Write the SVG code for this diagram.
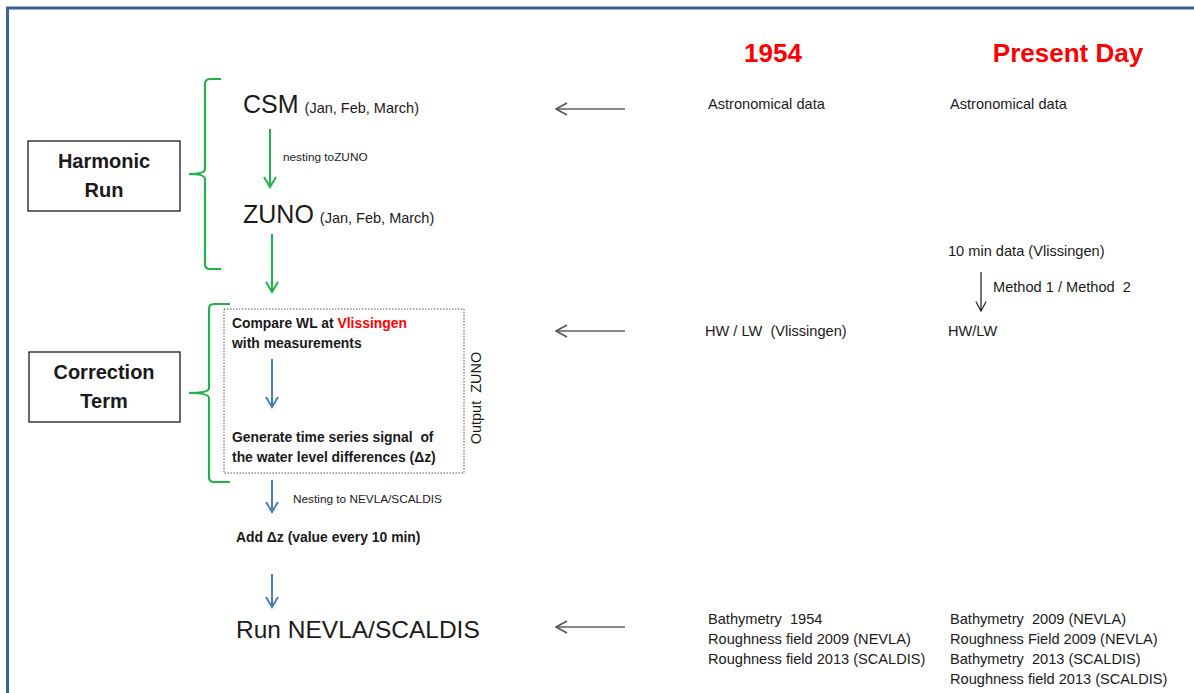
<svg xmlns="http://www.w3.org/2000/svg" width="1194" height="693" viewBox="0 0 1194 693">
<defs>
<style>
.t{font-family:"Liberation Sans",Arial,sans-serif;fill:#1a1a1a;white-space:pre}
.sm{font-size:14.6px}
.xs{font-size:11.8px}
.big{font-size:25px}
.b{font-weight:bold}
.bt{font-weight:bold;font-size:13.9px}
.red{fill:#ff0000}
.box{fill:#fff;stroke:#1a1a1a;stroke-width:1.3}
.brace{fill:none;stroke:#22b14c;stroke-width:2.2}
.g{stroke:#22b14c;stroke-width:2;fill:none}
.bl{stroke:#4a7ebb;stroke-width:2;fill:none}
.gr{stroke:#606060;stroke-width:1.5;fill:none}
.k{stroke:#1a1a1a;stroke-width:1.2;fill:none}
</style>
<marker id="mg" viewBox="0 0 14 14" refX="12" refY="7" markerWidth="14" markerHeight="14" markerUnits="userSpaceOnUse" orient="auto"><path d="M2,1 L12,7 L2,13" fill="none" stroke="#22b14c" stroke-width="2"/></marker>
<marker id="mb" viewBox="0 0 14 14" refX="12" refY="7" markerWidth="14" markerHeight="14" markerUnits="userSpaceOnUse" orient="auto"><path d="M2,1 L12,7 L2,13" fill="none" stroke="#4a7ebb" stroke-width="2"/></marker>
<marker id="mgr" viewBox="0 0 14 14" refX="12" refY="7" markerWidth="14" markerHeight="14" markerUnits="userSpaceOnUse" orient="auto"><path d="M1,1 L12,7 L1,13" fill="none" stroke="#505050" stroke-width="1.5"/></marker>
<marker id="mk" viewBox="0 0 14 14" refX="12" refY="7" markerWidth="12" markerHeight="12" markerUnits="userSpaceOnUse" orient="auto"><path d="M1,1 L12,7 L1,13" fill="none" stroke="#1a1a1a" stroke-width="1.3"/></marker>
</defs>
<rect width="1194" height="693" fill="#fff"/>
<!-- frame -->
<path d="M7.5,700 L7.5,8 L1200,8" fill="none" stroke="#3c6394" stroke-width="3"/>

<!-- headers -->
<g id="hdr1954"><text class="t b red" x="773" y="62" font-size="26" text-anchor="middle">1954</text></g>
<g id="hdrPresent"><text class="t b red" x="1068" y="62" font-size="26" text-anchor="middle">Present Day</text></g>

<!-- left boxes -->
<g id="harmonic">
<rect class="box" x="28" y="141" width="152" height="70"/>
<text class="t b" x="104" y="168" font-size="20" text-anchor="middle">Harmonic</text>
<text class="t b" x="104" y="197" font-size="20" text-anchor="middle">Run</text>
</g>
<g id="correction">
<rect class="box" x="29" y="352" width="151" height="70"/>
<text class="t b" x="104" y="379" font-size="20" text-anchor="middle">Correction</text>
<text class="t b" x="104" y="408" font-size="20" text-anchor="middle">Term</text>
</g>

<!-- braces -->
<g id="brace1"><path class="brace" d="M221,79 L210,79 Q205,79 205,84 L205,169 Q205,174 189,174 Q205,174 205,179 L205,264 Q205,269 210,269 L221,269"/></g>
<g id="brace2"><path class="brace" d="M230,304 L214,304 Q209,304 209,309 L209,388 Q209,393 189,393 Q209,393 209,398 L209,477 Q209,482 214,482 L230,482"/></g>

<!-- flow nodes -->
<g id="csm"><text class="t" x="243" y="113"><tspan class="big">CSM</tspan><tspan font-size="14.5" dx="6">(Jan, Feb, March)</tspan></text></g>
<g id="zuno"><text class="t" x="243" y="223"><tspan class="big">ZUNO</tspan><tspan font-size="14.5" dx="6">(Jan, Feb, March)</tspan></text></g>
<g id="outputzuno">
<rect x="224" y="309" width="240" height="164" fill="none" stroke="#555" stroke-width="1" stroke-dasharray="1.5,1.5"/>
<text class="t bt" x="232" y="328">Compare WL at <tspan class="red">Vlissingen</tspan></text>
<text class="t bt" x="232" y="348">with measurements</text>
<text class="t bt" x="232" y="442">Generate time series signal  of</text>
<text class="t bt" x="232" y="462">the water level differences (Δz)</text>
<text class="t" transform="translate(481,398) rotate(-90)" font-size="14.5" text-anchor="middle">Output  ZUNO</text>
</g>
<g id="adddz"><text class="t bt" x="236" y="542">Add Δz (value every 10 min)</text></g>
<g id="run"><text class="t" x="236" y="638" font-size="24.5">Run NEVLA/SCALDIS</text></g>

<!-- right column data -->
<g id="astro1954"><text class="t sm" x="708" y="109">Astronomical data</text></g>
<g id="astroPD"><text class="t sm" x="950" y="109">Astronomical data</text></g>
<g id="tenmin"><text class="t sm" x="948" y="256">10 min data (Vlissingen)</text></g>
<g id="hwlw1954"><text class="t sm" x="705" y="336">HW / LW  (Vlissingen)</text></g>
<g id="hwlwPD"><text class="t sm" x="948" y="336">HW/LW</text></g>
<g id="bathy1954">
<text class="t sm" x="708" y="624">Bathymetry  1954</text>
<text class="t sm" x="708" y="644">Roughness field 2009 (NEVLA)</text>
<text class="t sm" x="708" y="664">Roughness field 2013 (SCALDIS)</text>
</g>
<g id="bathyPD">
<text class="t sm" x="950" y="624">Bathymetry  2009 (NEVLA)</text>
<text class="t sm" x="950" y="644">Roughness Field 2009 (NEVLA)</text>
<text class="t sm" x="950" y="664">Bathymetry  2013 (SCALDIS)</text>
<text class="t sm" x="950" y="684">Roughness field 2013 (SCALDIS)</text>
</g>

<!-- connectors -->
<g id="connectors">
<line class="g" x1="270" y1="129" x2="270" y2="187" marker-end="url(#mg)"/>
<text class="t xs" x="283" y="161">nesting toZUNO</text>
<line class="g" x1="272" y1="234" x2="272" y2="292" marker-end="url(#mg)"/>
<line class="bl" x1="272" y1="359" x2="272" y2="407" marker-end="url(#mb)"/>
<line class="bl" x1="272" y1="480" x2="272" y2="512" marker-end="url(#mb)"/>
<text class="t xs" x="293" y="503">Nesting to NEVLA/SCALDIS</text>
<line class="bl" x1="272" y1="574" x2="272" y2="607" marker-end="url(#mb)"/>
<line class="gr" x1="625" y1="109" x2="556" y2="109" marker-end="url(#mgr)"/>
<line class="gr" x1="625" y1="331" x2="556" y2="331" marker-end="url(#mgr)"/>
<line class="gr" x1="625" y1="627" x2="556" y2="627" marker-end="url(#mgr)"/>
<line class="k" x1="981" y1="272" x2="981" y2="311" marker-end="url(#mk)"/>
<text class="t sm" x="993" y="292">Method 1 / Method  2</text>
</g>
</svg>
